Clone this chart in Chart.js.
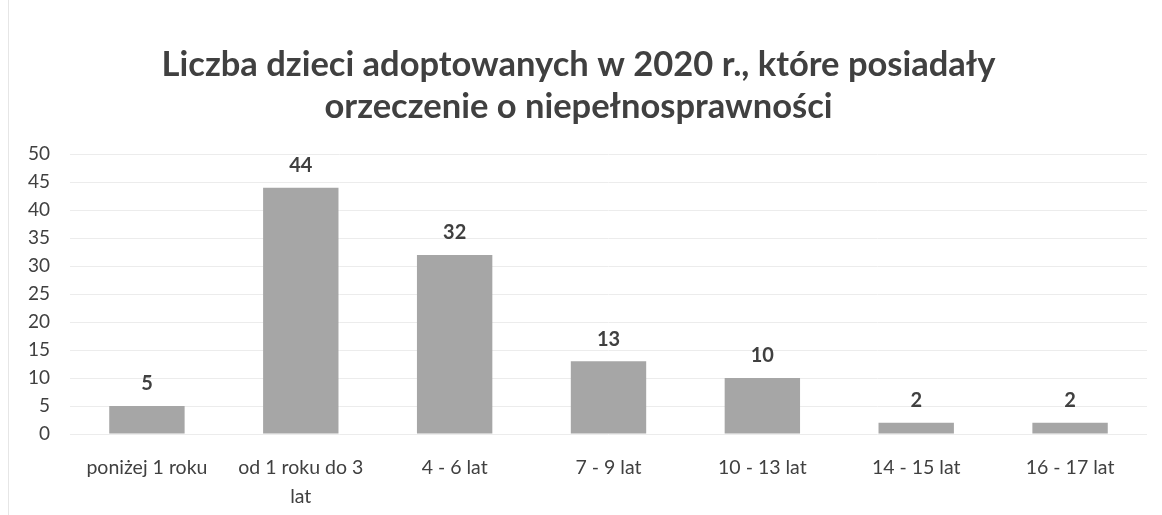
<!DOCTYPE html>
<html>
<head>
<meta charset="utf-8">
<script src="https://cdn.jsdelivr.net/npm/chart.js@4.4.1/dist/chart.umd.min.js"></script>
<style>
  html, body { margin: 0; padding: 0; background: #fff; }
  #wrap { width: 1162px; height: 515px; position: relative; }
  #wrap:before { content: ''; position: absolute; left: 8px; top: 0; bottom: 0; border-left: 1px solid #e6e6e6; }
</style>
</head>
<body>
<div id="wrap"><canvas id="grafico" width="1162" height="515"></canvas></div>
<script>
const kategorie = ['poniżej 1 roku', ['od 1 roku do 3', 'lat'], '4 - 6 lat', '7 - 9 lat', '10 - 13 lat', '14 - 15 lat', '16 - 17 lat'];
const wartosci = [5, 44, 32, 13, 10, 2, 2];
const tytul = ['Liczba dzieci adoptowanych w 2020 r., które posiadały', 'orzeczenie o niepełnosprawności'];
const osY = { min: 0, max: 50, krok: 5 };

const etykiety = {
    id: 'etykiety',
    afterDatasetsDraw(chart) {
        const ctx = chart.ctx;
        const meta = chart.getDatasetMeta(0);
        ctx.save();
        ctx.font = 'bold 20px Lato, sans-serif';
        ctx.fillStyle = '#404040';
        ctx.textAlign = 'center';
        ctx.textBaseline = 'bottom';
        meta.data.forEach((bar, i) => {
            ctx.fillText(wartosci[i], bar.x, bar.y - 12);
        });
        ctx.restore();
    }
};

const ctx = document.getElementById('grafico').getContext('2d');
new Chart(ctx, {
    type: 'bar',
    data: {
        labels: kategorie,
        datasets: [{
            data: wartosci,
            backgroundColor: '#a6a6a6',
            borderWidth: 0,
            categoryPercentage: 1,
            barPercentage: 0.49
        }]
    },
    options: {
        responsive: false,
        animation: false,
        layout: { padding: { left: 10, right: 15, top: 0, bottom: 7 } },
        plugins: {
            legend: { display: false },
            tooltip: { enabled: false },
            title: {
                display: true,
                text: tytul,
                color: '#404040',
                font: { family: 'Lato, sans-serif', size: 34.5, weight: 'bold', lineHeight: 1.22 },
                padding: { top: 44, bottom: 26 }
            }
        },
        scales: {
            y: {
                min: osY.min,
                max: osY.max,
                afterFit(scale) { scale.width = 60; },
                ticks: {
                    stepSize: osY.krok,
                    color: '#404040',
                    font: { family: 'Lato, sans-serif', size: 19 },
                    padding: 20
                },
                grid: { color: '#ececec', drawTicks: false },
                border: { display: false }
            },
            x: {
                afterFit(scale) { scale.height = 74; },
                ticks: {
                    color: '#404040',
                    font: { family: 'Lato, sans-serif', size: 19.5, lineHeight: 1.45 },
                    maxRotation: 0,
                    autoSkip: false,
                    padding: 12
                },
                grid: { display: false },
                border: { display: false }
            }
        }
    },
    plugins: [etykiety]
});
</script>
</body>
</html>
